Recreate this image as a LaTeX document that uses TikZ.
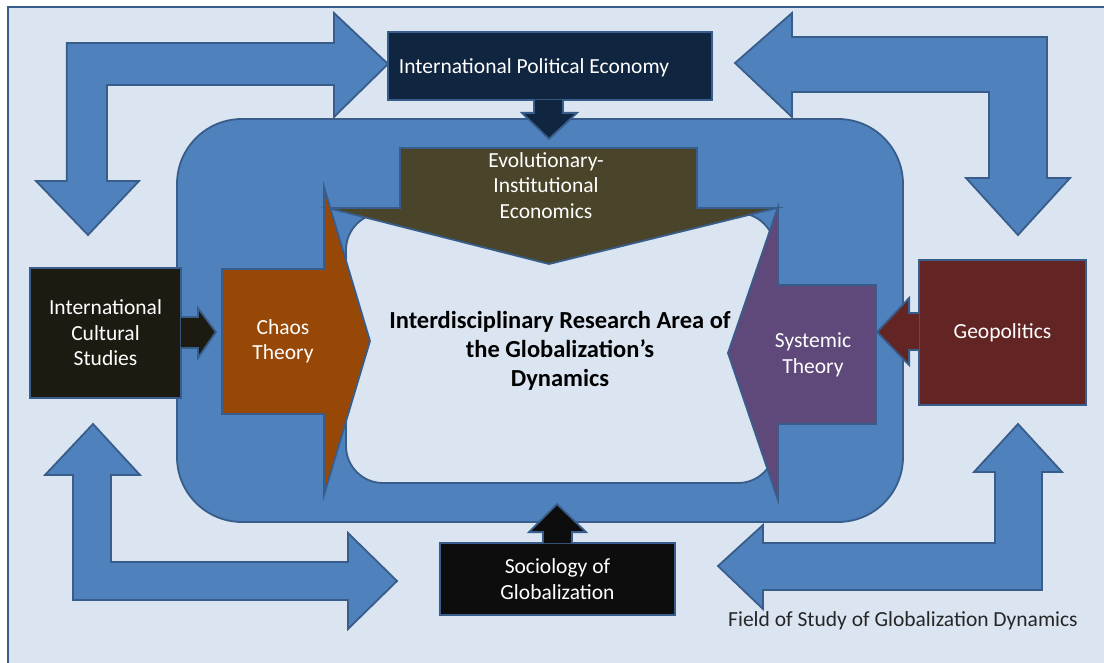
\documentclass[tikz,border=0pt]{standalone}
\usepackage{fontspec}
\setmainfont{Carlito}
\usetikzlibrary{calc}
\definecolor{bgl}{HTML}{DBE5F1}
\definecolor{bfill}{HTML}{4F81BD}
\definecolor{bline}{HTML}{385D8A}
\definecolor{ipec}{HTML}{10253F}
\definecolor{eiec}{HTML}{4A442A}
\definecolor{chaosc}{HTML}{974806}
\definecolor{sysc}{HTML}{5F497A}
\definecolor{geoc}{HTML}{632523}
\definecolor{icsc}{HTML}{1D1B11}
\definecolor{socc}{HTML}{0D0D0D}
\tikzset{
  blockshape/.style={draw=bline, line width=1.8pt, line join=miter},
  bluearrow/.style={blockshape, fill=bfill},
  boxnode/.style={rectangle, draw=bline, line width=1.8pt, text=white, align=center, inner sep=0pt,
    font=\fontsize{21.5}{25.5}\selectfont},
  wtext/.style={text=white, align=center, inner sep=0pt, font=\fontsize{21.5}{25.5}\selectfont},
  smallarrow/.style={draw=bline, line width=1.8pt, line join=miter}
}
\begin{document}
\begin{tikzpicture}[x=1pt,y=-1pt]
\useasboundingbox (0,0) rectangle (1104,663);
\fill[white] (0,0) rectangle (1104,663);
\filldraw[fill=bgl, draw=bline, line width=1.8pt] (8,7) rectangle (1115,675);

% bent arrows
\path[bluearrow] (66.7,43) -- (334,43) -- (334,13) -- (388,64) -- (334,117) -- (334,85)
  -- (107,85) -- (107,181) -- (139,181) -- (88,235) -- (36,181) -- (66.7,181) -- cycle;
\path[bluearrow] (1047,37) -- (792,37) -- (792,13) -- (735,63) -- (792,117) -- (792,92)
  -- (989,92) -- (989,178) -- (966,178) -- (1018,235) -- (1070,178) -- (1047,178) -- cycle;
\path[bluearrow] (73,600) -- (73,475) -- (45,475) -- (93,424) -- (140,475) -- (111,475)
  -- (111,562) -- (348,562) -- (348,533) -- (397,581) -- (348,629) -- (348,600) -- cycle;
\path[bluearrow] (1042,590) -- (763,590) -- (763,609) -- (718,566) -- (763,525) -- (763,543)
  -- (995,543) -- (995,472) -- (974,472) -- (1018,424) -- (1062,472) -- (1042,472) -- cycle;

% frame
\path[bluearrow, rounded corners=65pt] (177,119) rectangle (903,522);
\path[blockshape, fill=bgl, rounded corners=37pt] (346,213) rectangle (775,483);

% inner arrows
\path[blockshape, fill=eiec] (400,148) -- (697,148) -- (697,208) -- (777,208) -- (549,264)
  -- (328,208) -- (400,208) -- cycle;
\path[blockshape, fill=chaosc] (222,269) -- (324,269) -- (324,187) -- (370,341) -- (324,495)
  -- (324,414) -- (222,414) -- cycle;
\path[blockshape, fill=sysc] (876,285) -- (778,285) -- (778,207) -- (728,353) -- (778,500)
  -- (778,424) -- (876,424) -- cycle;

\node[wtext] (eie) at (546,185.5) {Evolutionary-\\Institutional\\Economics};
\node[wtext] (chaos) at (283,341.5) {Chaos\\Theory};
\node[wtext] (sys) at (813,355) {Systemic\\Theory};
\node[align=center, inner sep=0pt, font=\bfseries\fontsize{24.5}{29}\selectfont] (core) at (560,351)
  {Interdisciplinary Research Area of\\the Globalization’s\\Dynamics};

% boxes
\node[boxnode, fill=ipec, minimum width=324pt, minimum height=68pt] (ipe) at (550,66) {};
\node[wtext] (ipetext) at (534,68) {International Political Economy};
\node[boxnode, fill=icsc, minimum width=151pt, minimum height=130pt] (ics) at (105.5,333)
  {International\\Cultural\\Studies};
\node[boxnode, fill=geoc, minimum width=167pt, minimum height=145pt] (geo) at (1002.5,332.5)
  {Geopolitics};
\node[boxnode, fill=socc, minimum width=235pt, minimum height=72pt] (soc) at (557.5,579)
  {Sociology of\\Globalization};

% small arrows
\path[smallarrow, fill=ipec] ($(ipe.south)+(-16,-1)$) -- ($(ipe.south)+(-16,12)$) -- ($(ipe.south)+(-28,12)$)
  -- ($(ipe.south)+(-1,38)$) -- ($(ipe.south)+(27,12)$) -- ($(ipe.south)+(13,12)$) -- ($(ipe.south)+(13,-1)$);
\path[smallarrow, fill=icsc] ($(ics.east)+(-1,-16)$) -- ($(ics.east)+(16,-16)$) -- ($(ics.east)+(16,-25)$)
  -- ($(ics.east)+(34,-1)$) -- ($(ics.east)+(16,25)$) -- ($(ics.east)+(16,15)$) -- ($(ics.east)+(-1,15)$);
\path[smallarrow, fill=geoc] ($(geo.west)+(1,-19.5)$) -- ($(geo.west)+(-9,-19.5)$) -- ($(geo.west)+(-9,-34.5)$)
  -- ($(geo.west)+(-41,-0.5)$) -- ($(geo.west)+(-9,32.5)$) -- ($(geo.west)+(-9,17.5)$) -- ($(geo.west)+(1,17.5)$);
\path[smallarrow, fill=socc] ($(soc.north)+(-14.5,1)$) -- ($(soc.north)+(-14.5,-10)$) -- ($(soc.north)+(-28.5,-10)$)
  -- ($(soc.north)+(-0.5,-38)$) -- ($(soc.north)+(28.5,-10)$) -- ($(soc.north)+(14.5,-10)$) -- ($(soc.north)+(14.5,1)$);

\node[inner sep=0pt, text=black!85, font=\fontsize{21.5}{25.5}\selectfont] (caption) at (903,621)
  {Field of Study of Globalization Dynamics};
\end{tikzpicture}
\end{document}
